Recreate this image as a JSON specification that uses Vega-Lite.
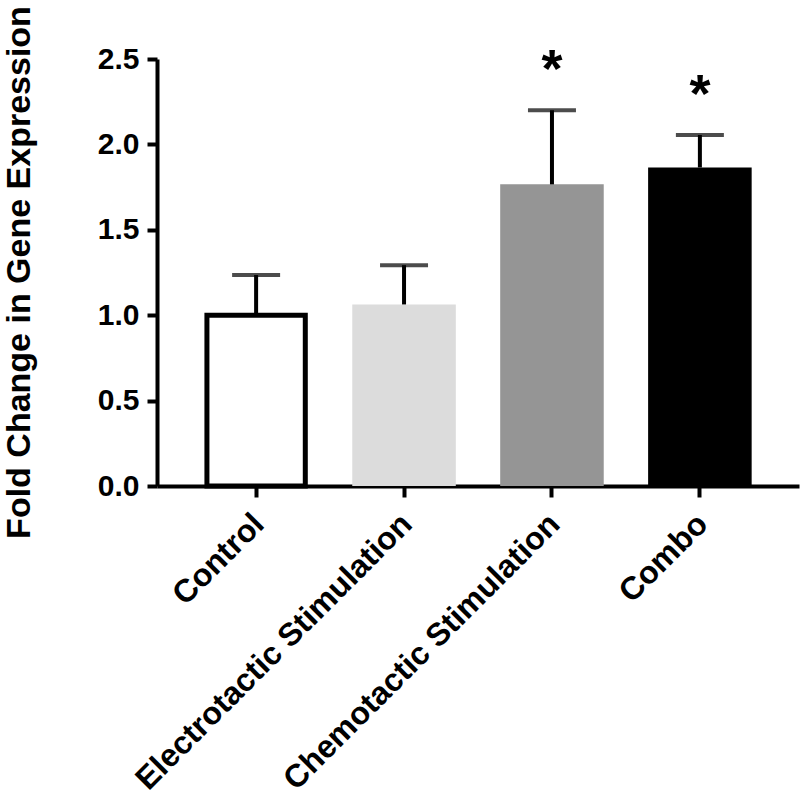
{
  "$schema": "https://vega.github.io/schema/vega-lite/v6.json",
  "autosize": {"type": "none"},
  "width": 642,
  "height": 427,
  "padding": {"left": 157, "top": 59, "right": 1, "bottom": 312},
  "background": "white",
  "config": {
    "view": {"stroke": null},
    "font": "Liberation Sans",
    "axis": {"zindex": 1, "domainColor": "black", "tickColor": "black", "labelColor": "black", "titleColor": "black", "grid": false, "labelFont": "Liberation Sans", "titleFont": "Liberation Sans", "labelFontWeight": "bold", "titleFontWeight": "bold"}
  },
  "data": {
    "values": [
      {"group": "Control", "mean": 1.0, "upper": 1.235, "sig": ""},
      {"group": "Electrotactic Stimulation", "mean": 1.063, "upper": 1.293, "sig": ""},
      {"group": "Chemotactic Stimulation", "mean": 1.766, "upper": 2.2, "sig": "*"},
      {"group": "Combo", "mean": 1.865, "upper": 2.055, "sig": "*"}
    ]
  },
  "encoding": {
    "x": {
      "field": "group",
      "type": "nominal",
      "sort": ["Control", "Electrotactic Stimulation", "Chemotactic Stimulation", "Combo"],
      "scale": {"domain": ["Control", "Electrotactic Stimulation", "Chemotactic Stimulation", "Combo"], "paddingInner": 0.3, "paddingOuter": 0.32},
      "axis": {
        "title": null,
        "labelAngle": -45,
        "labelFontSize": 32,
        "labelLimit": 0,
        "labelPadding": 11,
        "labelOffset": -8,
        "tickSize": 11,
        "tickWidth": 4,
        "domainWidth": 4
      }
    }
  },
  "layer": [
    {
      "transform": [{"filter": "datum.group !== 'Control'"}],
      "mark": {"type": "bar", "width": {"band": 1}},
      "encoding": {
        "y": {
          "field": "mean",
          "type": "quantitative",
          "scale": {"domain": [0, 2.5], "nice": false},
          "axis": {
            "title": "Fold Change in Gene Expression",
            "titleFontSize": 34,
            "titleAngle": -90,
            "titleX": -128,
            "titleY": 213,
            "titleAlign": "center",
            "titleBaseline": "alphabetic",
            "values": [0, 0.5, 1, 1.5, 2, 2.5],
            "format": ".1f",
            "labelFontSize": 30,
            "labelPadding": 8,
            "tickSize": 10,
            "tickWidth": 4,
            "domainWidth": 4
          }
        },
        "color": {
          "field": "group",
          "type": "nominal",
          "scale": {
            "domain": ["Electrotactic Stimulation", "Chemotactic Stimulation", "Combo"],
            "range": ["#dcdcdc", "#959595", "#000000"]
          },
          "legend": null
        }
      }
    },
    {
      "transform": [{"filter": "datum.group === 'Control'"}],
      "mark": {"type": "bar", "width": {"band": 0.95}, "fill": "white", "stroke": "black", "strokeWidth": 5},
      "encoding": {
        "y": {"field": "mean", "type": "quantitative"}
      }
    },
    {
      "mark": {"type": "rule", "color": "black", "strokeWidth": 4},
      "encoding": {
        "y": {"field": "mean", "type": "quantitative"},
        "y2": {"field": "upper"}
      }
    },
    {
      "mark": {"type": "tick", "color": "black", "thickness": 4, "size": 48, "orient": "horizontal"},
      "encoding": {
        "y": {"field": "upper", "type": "quantitative"}
      }
    },
    {
      "mark": {"type": "text", "fontSize": 54, "fontWeight": "bold", "baseline": "alphabetic", "align": "center", "dy": -23, "color": "black"},
      "encoding": {
        "y": {"field": "upper", "type": "quantitative"},
        "text": {"field": "sig"}
      }
    }
  ]
}
